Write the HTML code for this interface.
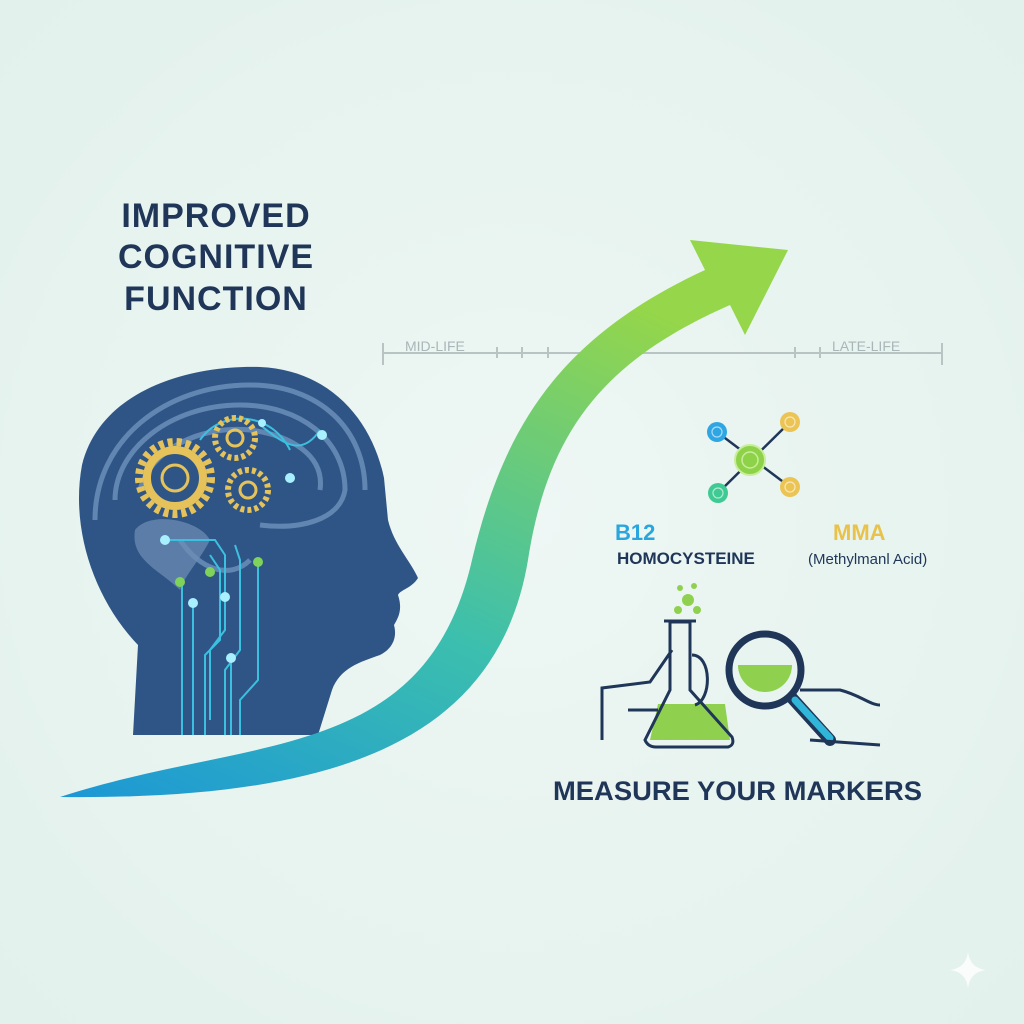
<!DOCTYPE html>
<html><head><style>
html,body{margin:0;padding:0;background:#e8f4f0;}
svg{display:block}
</style></head><body>
<svg width="1024" height="1024" viewBox="0 0 1024 1024" xmlns="http://www.w3.org/2000/svg" font-family="Liberation Sans, sans-serif">
<defs>
<linearGradient id="ar" x1="0" y1="1" x2="0.6" y2="0">
<stop offset="0" stop-color="#1c97d6"/><stop offset="0.45" stop-color="#3cbfae"/><stop offset="1" stop-color="#95d64a"/>
</linearGradient>
<radialGradient id="bg" cx="0.5" cy="0.5" r="0.7"><stop offset="0" stop-color="#eef7f4"/><stop offset="1" stop-color="#e2f1ec"/></radialGradient>
</defs>
<rect width="1024" height="1024" fill="url(#bg)"/>
<g fill="#1f3658" font-weight="bold" font-size="34" text-anchor="middle" letter-spacing="1">
<text x="216" y="227">IMPROVED</text>
<text x="216" y="268">COGNITIVE</text>
<text x="216" y="310">FUNCTION</text>
</g>
<!-- timeline -->
<g stroke="#b8c4c4" stroke-width="2">
<line x1="383" y1="353" x2="942" y2="353"/>
<line x1="383" y1="343" x2="383" y2="365"/><line x1="942" y1="343" x2="942" y2="365"/>
<line x1="497" y1="347" x2="497" y2="358"/><line x1="522" y1="347" x2="522" y2="358"/><line x1="548" y1="347" x2="548" y2="358"/>
<line x1="795" y1="347" x2="795" y2="358"/><line x1="820" y1="347" x2="820" y2="358"/>
</g>
<text x="405" y="351" font-size="14" fill="#a9b6b8">MID-LIFE</text>
<text x="832" y="351" font-size="14" fill="#a9b6b8">LATE-LIFE</text>
<!-- head -->
<path d="M133,735 L138,645 C95,600 70,530 82,465 C100,392 185,365 260,367 C330,370 372,420 384,478 L388,520 C394,545 410,560 418,578 C412,588 400,590 398,595 C403,610 398,618 394,625 C398,640 390,650 380,655 C360,662 340,668 332,690 L318,735 Z" fill="#2f5586"/>
<g fill="none" stroke="#6f93bd" stroke-width="5" opacity="0.8">
<path d="M95,520 C95,440 165,385 250,385 C320,385 365,430 365,490"/>
<path d="M115,500 C115,450 170,405 240,405 C300,405 345,440 345,490 C340,520 300,530 260,525"/>
<path d="M140,490 C150,450 200,425 250,430 C290,435 325,455 320,490"/>
<path d="M180,540 C200,570 230,580 250,560"/>
</g>
<path d="M135,530 C150,510 200,520 210,540 C200,560 185,575 180,590 C160,570 130,560 135,530 Z" fill="#6d8fb5" opacity="0.7"/>
<g fill="none" stroke="#3cc0e0" stroke-width="2">
<path d="M168,540 L215,540 L225,555 L225,630 L210,650 L210,720"/>
<path d="M182,582 L182,735"/><path d="M193,603 L193,735"/>
<path d="M210,555 L220,570 L220,640 L205,655 L205,735"/>
<path d="M235,545 L240,560 L240,650 L225,670 L225,735"/>
<path d="M258,562 L258,680 L240,700 L240,735"/>
<path d="M231,660 L231,735"/>
<path d="M260,425 C280,440 300,460 320,430"/>
<path d="M200,440 C220,410 270,410 290,450"/>
</g>
<g fill="#a8f0ff"><circle cx="165" cy="540" r="5"/><circle cx="193" cy="603" r="5"/><circle cx="225" cy="597" r="5"/><circle cx="231" cy="658" r="5"/><circle cx="290" cy="478" r="5"/><circle cx="322" cy="435" r="5"/><circle cx="262" cy="423" r="4"/></g>
<g fill="#7fd35a"><circle cx="180" cy="582" r="5"/><circle cx="210" cy="572" r="5"/><circle cx="258" cy="562" r="5"/></g>
<g fill="none" stroke="#e6c35a">
<circle cx="175" cy="478" r="36" stroke-width="8" stroke-dasharray="5 4"/>
<circle cx="175" cy="478" r="28" stroke-width="8"/>
<circle cx="175" cy="478" r="13" stroke-width="3"/>
<circle cx="235" cy="438" r="20" stroke-width="6" stroke-dasharray="4 3"/>
<circle cx="235" cy="438" r="8" stroke-width="3"/>
<circle cx="248" cy="490" r="20" stroke-width="6" stroke-dasharray="4 3"/>
<circle cx="248" cy="490" r="8" stroke-width="3"/>
</g>
<!-- arrow -->
<path d="M60,797 C250,735 425,765 472,560 C505,420 565,335 705,270 L690,240 L788,250 L745,335 L730,305 C605,360 548,430 528,560 C497,745 330,800 60,797 Z" fill="url(#ar)"/>
<!-- molecule -->
<g stroke="#1f3658" stroke-width="2.5"><line x1="717" y1="432" x2="790" y2="487"/><line x1="790" y1="422" x2="718" y2="493"/></g>
<circle cx="750" cy="460" r="15" fill="#8ed24a" stroke="#c8ee9a" stroke-width="2"/>
<circle cx="750" cy="460" r="8" fill="none" stroke="#c8ee9a" stroke-width="1.5"/>
<circle cx="717" cy="432" r="10" fill="#2ea6e4"/><circle cx="790" cy="422" r="10" fill="#ebc453"/>
<circle cx="718" cy="493" r="10" fill="#3fca94"/><circle cx="790" cy="487" r="10" fill="#ebc453"/>
<g fill="none" stroke="#ffffff" stroke-width="1.2" opacity="0.6"><circle cx="717" cy="432" r="5"/><circle cx="790" cy="422" r="5"/><circle cx="718" cy="493" r="5"/><circle cx="790" cy="487" r="5"/></g>
<text x="615" y="540" font-size="22" font-weight="bold" fill="#2aa6df">B12</text>
<text x="617" y="564" font-size="17" font-weight="bold" fill="#1f3658">HOMOCYSTEINE</text>
<text x="833" y="540" font-size="22" font-weight="bold" fill="#e8c24a">MMA</text>
<text x="808" y="564" font-size="15" fill="#1f3658">(Methylmanl Acid)</text>
<!-- flask -->
<g fill="#8fd14f"><circle cx="688" cy="600" r="6"/><circle cx="678" cy="610" r="4"/><circle cx="697" cy="610" r="4"/><circle cx="680" cy="588" r="3"/><circle cx="694" cy="586" r="3"/></g>
<path d="M658,704 L725,704 L730,740 L650,740 Z" fill="#8fd14f"/>
<path d="M670,622 L670,690 L645,740 Q648,747 656,747 L728,747 Q735,745 732,737 L690,690 L690,622 Z" fill="none" stroke="#1f3658" stroke-width="3"/>
<line x1="664" y1="621" x2="696" y2="621" stroke="#1f3658" stroke-width="3"/>
<path d="M602,740 L602,688 L650,682 L672,650" fill="none" stroke="#1f3658" stroke-width="3"/>
<path d="M628,710 L658,710 M692,655 C712,655 712,700 695,705" fill="none" stroke="#1f3658" stroke-width="3"/>
<!-- magnifier -->
<circle cx="765" cy="670" r="36" fill="#e8f4f0" stroke="#1f3658" stroke-width="7"/>
<path d="M738,665 L792,665 A27 27 0 0 1 738,665 Z" fill="#8fd14f"/>
<path d="M792,698 L830,740" stroke="#1f3658" stroke-width="12" stroke-linecap="round"/>
<path d="M795,700 L830,738" stroke="#2fb6d8" stroke-width="7" stroke-linecap="round"/>
<path d="M800,690 L840,690 C860,695 870,705 880,705 M810,740 L880,745" fill="none" stroke="#1f3658" stroke-width="3"/>
<text x="553" y="800" font-size="27" font-weight="bold" fill="#1f3658" textLength="369" lengthAdjust="spacingAndGlyphs">MEASURE YOUR MARKERS</text>
<path d="M968,952 Q970,968 986,970 Q970,972 968,988 Q966,972 950,970 Q966,968 968,952 Z" fill="#ffffff" opacity="0.8"/>
</svg>
</body></html>
